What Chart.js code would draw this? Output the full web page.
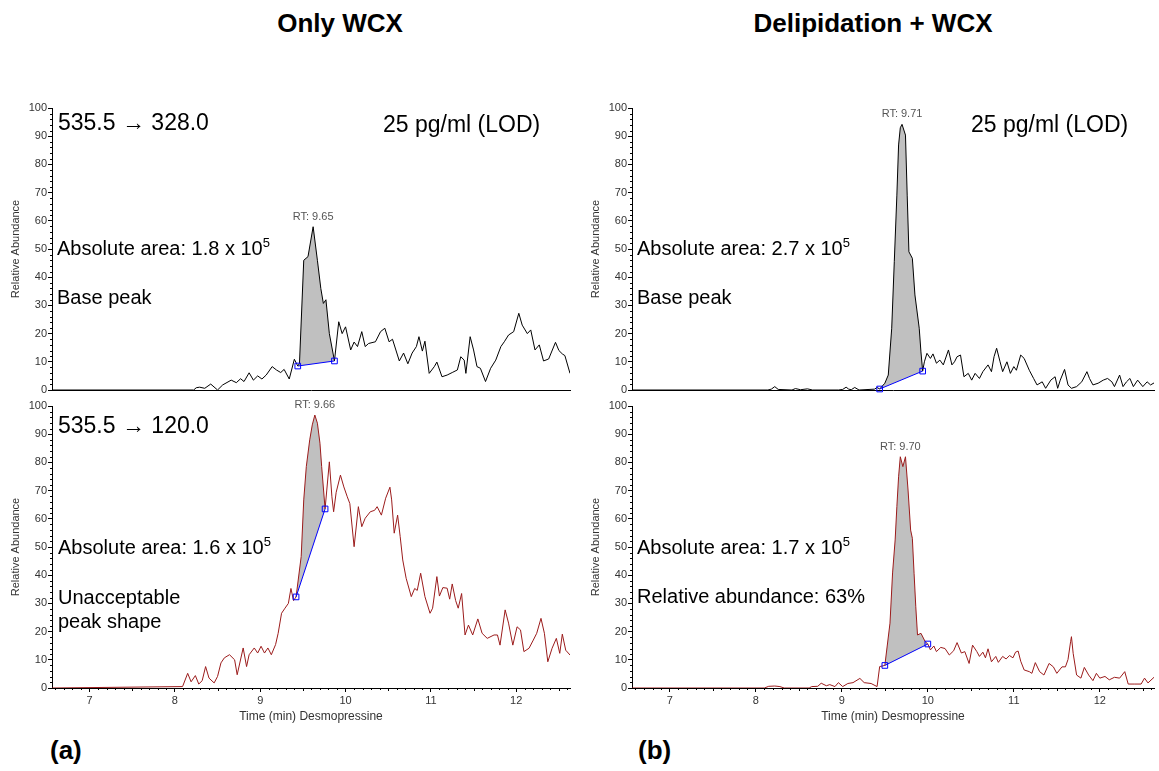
<!DOCTYPE html>
<html>
<head>
<meta charset="utf-8">
<script src="https://cdn.jsdelivr.net/npm/chart.js@4.4.0/dist/chart.umd.min.js"></script>
<style>
  body { margin: 0; background: #fff; width: 1159px; height: 771px; position: relative; overflow: hidden;
         font-family: "Liberation Sans", Arial, sans-serif; }
  canvas { position: absolute; }
  .t { position: absolute; white-space: nowrap; line-height: 1; color: #000; }
  .h { font-weight: bold; font-size: 26px; text-align: center; }
  .big { font-size: 23px; }
  .mid { font-size: 20px; }
  .sup { font-size: 13px; position: relative; top: -8px; }
</style>
</head>
<body>
<div class="t h" style="left:240px;top:10px;width:200px">Only WCX</div>
<div class="t h" style="left:723px;top:10px;width:300px">Delipidation + WCX</div>
<div class="t h" style="left:50px;top:737px">(a)</div>
<div class="t h" style="left:638px;top:737px">(b)</div>

<canvas id="tl" width="575" height="303" style="left:0;top:95px"></canvas>
<canvas id="bl" width="575" height="335" style="left:0;top:395px"></canvas>
<canvas id="tr" width="579" height="303" style="left:580px;top:95px"></canvas>
<canvas id="br" width="579" height="335" style="left:580px;top:395px"></canvas>

<div class="t big" style="left:58px;top:111px">535.5 → 328.0</div>
<div class="t big" style="left:383px;top:113px">25 pg/ml (LOD)</div>
<div class="t mid" style="left:57px;top:238px">Absolute area: 1.8 x 10<span class="sup">5</span></div>
<div class="t mid" style="left:57px;top:287px">Base peak</div>

<div class="t big" style="left:58px;top:414px">535.5 → 120.0</div>
<div class="t mid" style="left:58px;top:537px">Absolute area: 1.6 x 10<span class="sup">5</span></div>
<div class="t mid" style="left:58px;top:585px;line-height:24px">Unacceptable<br>peak shape</div>

<div class="t big" style="left:971px;top:113px">25 pg/ml (LOD)</div>
<div class="t mid" style="left:637px;top:238px">Absolute area: 2.7 x 10<span class="sup">5</span></div>
<div class="t mid" style="left:637px;top:287px">Base peak</div>

<div class="t mid" style="left:637px;top:537px">Absolute area: 1.7 x 10<span class="sup">5</span></div>
<div class="t mid" style="left:637px;top:586px">Relative abundance: 63%</div>

<script>
// Only WCX, 535.5 -> 328.0
const tlTime = [
  6.56, 8.22, 8.25, 8.29, 8.35, 8.42, 8.50, 8.56, 8.66, 8.72,
  8.77, 8.81, 8.87, 8.92, 8.97, 9.02, 9.07, 9.14, 9.19, 9.24,
  9.28, 9.34, 9.40, 9.44, 9.46, 9.51, 9.56, 9.62, 9.67, 9.71,
  9.74, 9.77, 9.81, 9.87, 9.92, 9.96, 10.00, 10.06, 10.10, 10.14,
  10.19, 10.23, 10.27, 10.35, 10.41, 10.46, 10.51, 10.55, 10.63, 10.68,
  10.73, 10.78, 10.83, 10.86, 10.90, 10.93, 10.98, 11.04, 11.07, 11.13,
  11.19, 11.25, 11.31, 11.35, 11.39, 11.41, 11.46, 11.50, 11.54, 11.58,
  11.64, 11.70, 11.76, 11.82, 11.86, 11.91, 11.97, 12.03, 12.07, 12.13,
  12.17, 12.22, 12.27, 12.32, 12.38, 12.46, 12.50, 12.54, 12.57, 12.63
];
const tlAbund = [
  0, 0, 0.8, 1.0, 0.6, 2.1, 0, 1.8, 3.5, 2.6,
  4.0, 3.0, 6.1, 3.5, 5.0, 3.9, 5.3, 8.3, 7.1, 6.2,
  7.3, 3.9, 10.9, 8.5, 9.4, 46.0, 47.3, 57.9, 46.0, 36.0,
  30.7, 32.0, 20.0, 10.3, 24.2, 20.0, 22.4, 14.2, 17.0, 15.4,
  20.7, 15.4, 16.5, 17.1, 20.7, 21.9, 17.1, 18.0, 10.3, 13.1,
  9.3, 13.1, 15.4, 18.9, 13.8, 17.3, 5.9, 8.3, 9.9, 4.7,
  5.3, 6.2, 7.1, 11.8, 10.6, 5.9, 18.9, 14.2, 8.3, 7.7,
  3.0, 7.7, 10.6, 15.4, 17.1, 19.5, 20.7, 27.2, 23.0, 20.0,
  21.3, 14.2, 16.0, 10.3, 11.0, 16.9, 14.0, 12.8, 12.2, 5.9
];
const tlBaseTime = [9.44, 9.87];
const tlBaseAbund = [8.5, 10.3];

// Only WCX, 535.5 -> 120.0
const blTime = [
  6.56, 8.09, 8.15, 8.19, 8.24, 8.28, 8.32, 8.36, 8.40, 8.46,
  8.50, 8.54, 8.58, 8.64, 8.70, 8.73, 8.80, 8.84, 8.87, 8.93,
  8.97, 9.01, 9.05, 9.09, 9.13, 9.18, 9.21, 9.25, 9.29, 9.33,
  9.36, 9.39, 9.42, 9.48, 9.51, 9.54, 9.58, 9.61, 9.64, 9.67,
  9.70, 9.72, 9.76, 9.78, 9.81, 9.84, 9.86, 9.89, 9.94, 9.98,
  10.02, 10.05, 10.10, 10.15, 10.19, 10.23, 10.29, 10.34, 10.37, 10.42,
  10.47, 10.52, 10.54, 10.57, 10.61, 10.64, 10.67, 10.71, 10.77, 10.81,
  10.84, 10.88, 10.93, 10.99, 11.02, 11.07, 11.10, 11.14, 11.19, 11.22,
  11.25, 11.29, 11.32, 11.36, 11.40, 11.44, 11.49, 11.55, 11.60, 11.66,
  11.74, 11.78, 11.81, 11.87, 11.91, 11.96, 12.01, 12.05, 12.09, 12.15,
  12.20, 12.24, 12.29, 12.33, 12.37, 12.42, 12.47, 12.51, 12.54, 12.58, 12.63
];
const blAbund = [
  0, 0.5, 5.2, 2.2, 4.4, 1.4, 2.6, 7.6, 3.5, 1.8,
  4.1, 8.9, 10.7, 11.8, 10.0, 4.7, 14.2, 7.6, 11.8, 14.2,
  12.4, 14.8, 12.4, 14.2, 11.8, 15.4, 19.4, 26.5, 28.3, 30.0,
  35.3, 31.0, 32.3, 46.6, 66.7, 78.5, 88.0, 93.3, 96.8, 93.9,
  86.8, 78.5, 63.5, 70.2, 80.2, 67.8, 62.5, 69.4, 75.5, 71.3,
  67.8, 65.4, 50.1, 64.3, 57.2, 60.2, 62.5, 63.0, 64.3, 61.3,
  67.3, 71.2, 66.7, 54.9, 61.3, 53.7, 45.4, 38.9, 32.4, 35.3,
  34.6, 40.7, 32.4, 26.5, 28.3, 39.5, 32.6, 35.6, 35.4, 31.5,
  36.9, 31.0, 28.3, 33.5, 18.8, 22.3, 18.8, 24.5, 19.4, 17.6,
  18.8, 18.8, 15.2, 27.7, 23.0, 15.2, 21.7, 20.6, 12.9, 14.1,
  17.0, 19.4, 24.7, 19.4, 9.3, 14.1, 17.6, 12.3, 19.1, 13.4, 11.7
];
const blBaseTime = [9.42, 9.76];
const blBaseAbund = [32.3, 63.5];

// Delipidation + WCX, 535.5 -> 328.0
const trTime = [
  6.56, 8.14, 8.18, 8.22, 8.26, 8.42, 8.46, 8.52, 8.60, 8.66,
  8.96, 9.01, 9.05, 9.08, 9.11, 9.15, 9.20, 9.38, 9.41, 9.44,
  9.50, 9.54, 9.58, 9.61, 9.64, 9.66, 9.68, 9.70, 9.74, 9.76,
  9.78, 9.82, 9.85, 9.90, 9.92, 9.94, 9.96, 9.99, 10.03, 10.06,
  10.10, 10.14, 10.18, 10.24, 10.28, 10.31, 10.34, 10.38, 10.42, 10.47,
  10.51, 10.55, 10.60, 10.64, 10.70, 10.74, 10.77, 10.80, 10.84, 10.87,
  10.92, 10.96, 11.00, 11.03, 11.08, 11.12, 11.18, 11.23, 11.27, 11.33,
  11.37, 11.43, 11.48, 11.51, 11.54, 11.59, 11.63, 11.67, 11.73, 11.79,
  11.85, 11.88, 11.92, 11.98, 12.04, 12.09, 12.14, 12.17, 12.23, 12.27,
  12.31, 12.35, 12.39, 12.44, 12.50, 12.55, 12.59, 12.63
];
const trAbund = [
  0, 0, 0.3, 1.2, 0.2, 0, 0.5, 0.1, 0.4, 0,
  0, 0.2, 1.0, 0.3, 0.1, 0.9, 0, 0.3, 0.9, 0.35,
  2.4, 5.3, 21.9, 45.5, 69.1, 86.9, 93.0, 94.2, 90.4, 69.1,
  49.0, 46.7, 33.7, 21.9, 13.5, 6.7, 10.0, 13.0, 11.2, 12.8,
  9.5, 10.6, 8.9, 14.2, 8.9, 10.0, 11.8, 12.4, 4.7, 5.9,
  3.5, 5.9, 4.1, 6.5, 8.9, 6.5, 11.8, 14.8, 10.0, 6.5,
  10.0, 5.9, 8.3, 7.0, 12.4, 11.2, 7.0, 4.1, 1.8, 2.9,
  0.6, 3.5, 4.7, 0.6, 3.5, 7.3, 1.8, 0.6, 1.2, 2.9,
  6.5, 4.1, 1.8, 2.4, 3.5, 4.1, 2.9, 1.2, 5.3, 1.2,
  2.9, 4.1, 1.2, 3.5, 1.2, 2.9, 1.8, 2.5
];
const trBaseTime = [9.44, 9.94];
const trBaseAbund = [0.35, 6.7];

// Delipidation + WCX, 535.5 -> 120.0
const brTime = [
  6.56, 8.10, 8.15, 8.22, 8.28, 8.33, 8.62, 8.65, 8.72, 8.76,
  8.82, 8.86, 8.92, 8.96, 9.01, 9.07, 9.13, 9.21, 9.26, 9.34,
  9.41, 9.44, 9.50, 9.56, 9.59, 9.62, 9.64, 9.66, 9.68, 9.71,
  9.74, 9.77, 9.80, 9.82, 9.84, 9.86, 9.88, 9.92, 9.97, 10.00,
  10.03, 10.07, 10.10, 10.15, 10.20, 10.25, 10.30, 10.34, 10.39, 10.43,
  10.48, 10.52, 10.57, 10.60, 10.64, 10.67, 10.70, 10.74, 10.79, 10.82,
  10.87, 10.91, 10.95, 10.99, 11.02, 11.05, 11.08, 11.12, 11.18, 11.21,
  11.25, 11.30, 11.35, 11.41, 11.46, 11.50, 11.56, 11.60, 11.63, 11.66,
  11.67, 11.69, 11.73, 11.78, 11.82, 11.87, 11.92, 11.96, 12.00, 12.06,
  12.11, 12.17, 12.23, 12.29, 12.33, 12.40, 12.48, 12.52, 12.56, 12.63
];
const brAbund = [
  0, 0, 0.6, 0.7, 0.5, 0, 0, 0.5, 0.6, 1.7,
  0.8, 1.2, 0.5, 1.9, 0.5, 1.6, 1.9, 3.4, 1.9, 1.6,
  0.5, 7.6, 8.0, 23.0, 40.8, 52.5, 64.3, 74.9, 82.0, 78.5,
  82.0, 70.2, 56.0, 53.1, 40.7, 28.8, 18.8, 19.4, 16.4, 15.6,
  13.5, 14.9, 12.9, 14.4, 14.0, 11.7, 13.2, 16.1, 12.4, 12.9,
  8.7, 15.2, 12.9, 11.2, 12.7, 10.7, 13.9, 9.3, 11.2, 9.1,
  11.2, 10.3, 11.5, 10.7, 12.7, 13.1, 9.5, 6.4, 5.8, 5.2,
  9.0, 5.8, 4.6, 8.7, 7.5, 5.2, 7.5, 7.5, 10.1, 16.4,
  18.2, 12.3, 4.6, 3.5, 7.3, 4.6, 2.6, 5.2, 3.5, 4.1,
  2.9, 3.8, 3.5, 5.8, 1.4, 1.4, 1.4, 3.5, 1.8, 3.8
];
const brBaseTime = [9.50, 10.00];
const brBaseAbund = [8.0, 15.6];

Chart.defaults.font.family = "'Liberation Sans', Arial, sans-serif";

// small ticks between the labelled ones
const minorTicks = {
  id: 'minorTicks',
  afterDraw(chart, args, o) {
    const { ctx, chartArea: a, scales: { x, y } } = chart;
    ctx.save();
    ctx.strokeStyle = '#000';
    ctx.lineWidth = 1;
    ctx.beginPath();
    for (let v = 2; v < 100; v += 2) {
      if (v % 10 === 0) continue;
      const py = Math.round(y.getPixelForValue(v)) + 0.5;
      ctx.moveTo(a.left - 2, py);
      ctx.lineTo(a.left, py);
    }
    if (o.bottom) {
      for (let k = 66; k <= 126; k++) {
        if (k % 10 === 0) continue;
        const px = Math.round(x.getPixelForValue(k / 10)) + 0.5;
        ctx.moveTo(px, a.bottom);
        ctx.lineTo(px, a.bottom + (k % 5 === 0 ? 3 : 2));
      }
    }
    ctx.stroke();
    ctx.restore();
  }
};

// "RT: x.xx" above the apex of the integrated peak
const rtLabel = {
  id: 'rtLabel',
  afterDatasetsDraw(chart, args, o) {
    const pts = chart.data.datasets[0].data;
    let top = pts[0];
    pts.forEach(p => { if (p.y > top.y) top = p; });
    const { ctx, scales: { x, y } } = chart;
    ctx.save();
    ctx.font = "11px 'Liberation Sans', Arial, sans-serif";
    ctx.fillStyle = '#555';
    ctx.textAlign = 'center';
    ctx.textBaseline = 'middle';
    ctx.fillText(o.text, x.getPixelForValue(top.x), y.getPixelForValue(top.y) - 10);
    ctx.restore();
  }
};

function makePanel(id, time, abund, baseTime, baseAbund, color, rt, bottom, padRight) {
  const pts = time.map((t, i) => ({ x: t, y: abund[i] }));
  const peak = pts.filter(p => p.x >= baseTime[0] && p.x <= baseTime[1]);
  const base = baseTime.map((t, i) => ({ x: t, y: baseAbund[i] }));

  new Chart(document.getElementById(id), {
    type: 'line',
    data: {
      datasets: [
        { data: peak, borderColor: 'rgba(0,0,0,0)', borderWidth: 0, pointRadius: 0,
          fill: { target: 2 }, backgroundColor: '#c0c0c0', order: 3 },
        { data: pts, borderColor: color, borderWidth: 1, pointRadius: 0, fill: false, order: 2 },
        { data: base, borderColor: '#0000ff', borderWidth: 1, pointStyle: 'rect', pointRadius: 4,
          pointBorderColor: '#0000ff', pointBackgroundColor: 'rgba(0,0,0,0)', fill: false, clip: 8, order: 1 }
      ]
    },
    options: {
      responsive: false,
      animation: false,
      layout: { padding: { top: bottom ? 11 : 13, bottom: bottom ? 2 : 8, left: 0, right: padRight } },
      plugins: {
        legend: { display: false },
        tooltip: { enabled: false },
        minorTicks: { bottom: bottom },
        rtLabel: { text: rt }
      },
      scales: {
        x: {
          type: 'linear',
          min: 6.56,
          max: 12.63,
          ticks: { display: bottom, stepSize: 1, includeBounds: false, color: '#333',
                   font: { size: 11 }, padding: 2, maxRotation: 0 },
          grid: { drawOnChartArea: false, drawTicks: bottom, tickLength: 4, color: '#000' },
          border: { color: '#000' },
          title: { display: bottom, text: 'Time (min) Desmopressine', color: '#333',
                   font: { size: 12 }, padding: { top: 0, bottom: 4 } },
          afterFit: s => { s.height = bottom ? 40 : 0; }
        },
        y: {
          min: 0,
          max: 100,
          ticks: { stepSize: 10, color: '#333', font: { size: 11 }, padding: 1 },
          grid: { drawOnChartArea: false, tickLength: 4, color: '#000' },
          border: { color: '#000' },
          title: { display: true, text: 'Relative Abundance', color: '#333',
                   font: { size: 11 }, padding: { top: 9, bottom: 0 } },
          afterFit: s => { s.width = 52; }
        }
      }
    },
    plugins: [minorTicks, rtLabel]
  });
}

makePanel('tl', tlTime, tlAbund, tlBaseTime, tlBaseAbund, '#000000', 'RT: 9.65', false, 5);
makePanel('bl', blTime, blAbund, blBaseTime, blBaseAbund, '#9b1b1b', 'RT: 9.66', true, 5);
makePanel('tr', trTime, trAbund, trBaseTime, trBaseAbund, '#000000', 'RT: 9.71', false, 1);
makePanel('br', brTime, brAbund, brBaseTime, brBaseAbund, '#9b1b1b', 'RT: 9.70', true, 1);
</script>
</body>
</html>
